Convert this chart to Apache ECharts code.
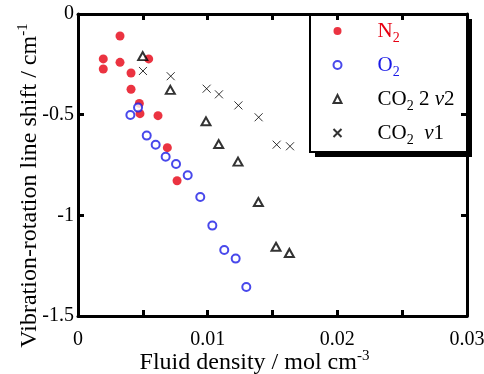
<!DOCTYPE html>
<html>
<head>
<meta charset="utf-8">
<script src="https://cdn.jsdelivr.net/npm/echarts@6/dist/echarts.min.js"></script>
<style>
  html, body { margin: 0; padding: 0; background: #fff; }
  #chart { width: 484px; height: 374px; }
</style>
</head>
<body>
<div id="chart"></div>
<script>
// values: [density mol/cm3, shift cm-1]
const n2Data = [
  [0.00195, -0.223], [0.00195, -0.273], [0.00324, -0.109], [0.00324, -0.240],
  [0.00409, -0.293], [0.00409, -0.374], [0.00545, -0.223], [0.00473, -0.444],
  [0.00478, -0.495], [0.00617, -0.505], [0.00689, -0.664], [0.00764, -0.828]
];
const o2Data = [
  [0.00404, -0.502], [0.00463, -0.465], [0.00530, -0.604], [0.00599, -0.649],
  [0.00676, -0.709], [0.00756, -0.745], [0.00846, -0.801], [0.00943, -0.909],
  [0.01036, -1.051], [0.01128, -1.172], [0.01216, -1.215], [0.01298, -1.356]
];
const co2v2Data = [
  [0.00499, -0.209], [0.00712, -0.377], [0.00987, -0.533], [0.01085, -0.646],
  [0.01234, -0.733], [0.01391, -0.934], [0.01527, -1.156], [0.01630, -1.187]
];
const co2v1Data = [
  [0.00501, -0.283], [0.00715, -0.309], [0.00992, -0.371], [0.01087, -0.399],
  [0.01237, -0.454], [0.01393, -0.513], [0.01532, -0.649], [0.01635, -0.657]
];
const seriesNames = ['N2', 'O2', 'CO2 2v2', 'CO2 v1'];
const legendLabels = {
  'N2': 'N{sub|2}',
  'O2': 'O{sub|2}',
  'CO2 2v2': 'CO{sub|2} 2 {i|ν}2',
  'CO2 v1': 'CO{sub|2}  {i|ν}1'
};

const font = '"Liberation Serif", "Times New Roman", serif';
const crossPath = 'path://M0,0L10,10M10,0L0,10';

const chart = echarts.init(document.getElementById('chart'), null, { renderer: 'canvas' });

const frameAxis = {
  axisLine: { show: true, onZero: false, lineStyle: { color: '#000', width: 3 } },
  axisTick: { show: true, inside: true, length: 6, lineStyle: { color: '#000', width: 3 } },
  splitLine: { show: false },
  nameMoveOverlap: false,
  z: 5
};

const xLabel = (v) => {
  const r = Math.round(v * 100);
  if (Math.abs(v * 100 - r) > 1e-6) return '';
  return r === 0 ? '0' : (r / 100).toString();
};

chart.setOption({
  animation: false,
  backgroundColor: '#fff',
  textStyle: { fontFamily: font },
  grid: { left: 78, top: 14, right: 17, bottom: 58, containLabel: false, outerBoundsMode: 'none' },
  xAxis: [
    {
      ...frameAxis,
      type: 'value', min: 0, max: 0.03, interval: 0.005, position: 'bottom',
      axisLabel: { formatter: xLabel, color: '#000', fontSize: 20, fontFamily: font, margin: 14, showMaxLabel: true },
      name: 'Fluid density / mol cm{sup|-3}',
      nameLocation: 'middle', nameGap: 33,
      nameTextStyle: {
        color: '#000', fontSize: 24, fontFamily: font, padding: [0, 36, 0, 0],
        rich: { sup: { fontSize: 15, fontFamily: font, color: '#000', padding: [0, 0, 13, 0] } }
      }
    },
    {
      ...frameAxis,
      type: 'value', min: 0, max: 0.03, interval: 0.005, position: 'top',
      axisLabel: { show: false }
    }
  ],
  yAxis: [
    {
      ...frameAxis,
      type: 'value', min: -1.5, max: 0, interval: 0.5, position: 'left',
      axisLabel: { color: '#000', fontSize: 20, fontFamily: font, margin: 4 },
      name: 'Vibration-rotation line shift / cm{sup|-1}',
      nameLocation: 'middle', nameGap: 34,
      nameTextStyle: {
        color: '#000', fontSize: 24, fontFamily: font, padding: [0, 41, 0, 0],
        rich: { sup: { fontSize: 15, fontFamily: font, color: '#000', padding: [0, 0, 13, 0] } }
      }
    },
    {
      ...frameAxis,
      type: 'value', min: -1.5, max: 0, interval: 0.5, position: 'right',
      axisLabel: { show: false }
    }
  ],
  legend: {
    orient: 'vertical', left: 331, top: 17, itemGap: 6, padding: 0,
    itemWidth: 8, itemHeight: 8,
    data: [
      { name: 'N2', textStyle: { color: '#e60012' } },
      { name: 'O2', textStyle: { color: '#1a1ae6' } },
      { name: 'CO2 2v2', textStyle: { color: '#000' } },
      { name: 'CO2 v1', textStyle: { color: '#000' } }
    ],
    formatter: (name) => legendLabels[name],
    textStyle: {
      fontSize: 21, fontFamily: font, lineHeight: 28, padding: [0, 0, 0, 31],
      rich: {
        sub: { fontSize: 14, fontFamily: font, lineHeight: 14, padding: [14, 0, 0, 0] },
        i: { fontSize: 21, fontFamily: font, lineHeight: 28, fontStyle: 'italic' }
      }
    },
    z: 3
  },
  graphic: [
    {
      type: 'rect', z: 1,
      shape: { x: 315, y: 19, width: 157, height: 138 },
      style: { fill: '#000' }
    },
    {
      type: 'rect', z: 1,
      shape: { x: 310, y: 14, width: 157, height: 138 },
      style: { fill: '#fff', stroke: '#000', lineWidth: 2 }
    }
  ],
  series: [
    {
      name: seriesNames[0], type: 'scatter', data: n2Data, symbol: 'circle', symbolSize: 9,
      itemStyle: { color: '#e60012' }, z: 4
    },
    {
      name: seriesNames[1], type: 'scatter', data: o2Data, symbol: 'emptyCircle', symbolSize: 8,
      itemStyle: { color: '#1a1ae6', borderColor: '#1a1ae6', borderWidth: 1.1 }, z: 4
    },
    {
      name: seriesNames[2], type: 'scatter', data: co2v2Data, symbol: 'emptyTriangle', symbolSize: [9, 8],
      itemStyle: { color: '#000', borderColor: '#000', borderWidth: 0.8 }, z: 4
    },
    {
      name: seriesNames[3], type: 'scatter', data: co2v1Data, symbol: crossPath, symbolSize: 8,
      itemStyle: { color: 'none', borderColor: '#000', borderWidth: 1 }, z: 4
    }
  ]
});
</script>
</body>
</html>
